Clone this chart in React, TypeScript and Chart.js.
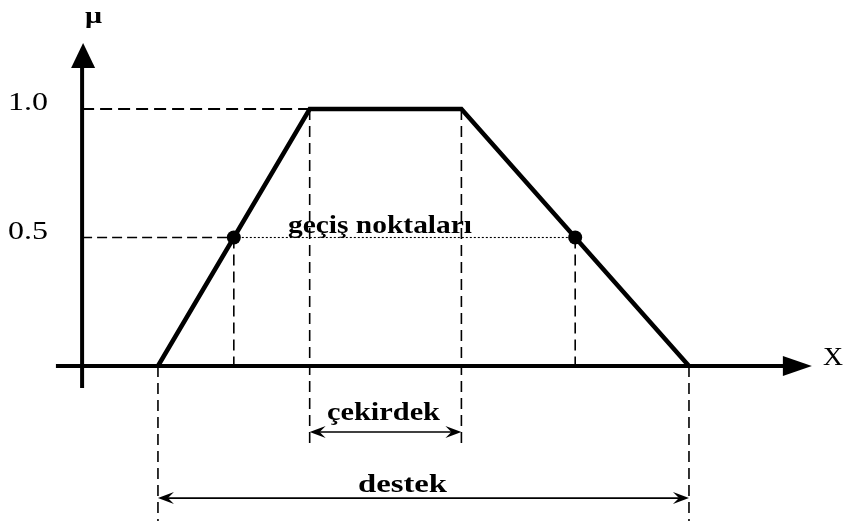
import { useEffect, useRef } from "react";
import { Chart, registerables } from "chart.js";

Chart.register(...registerables);

// ---- data ----
const membershipX = [2, 6, 10, 16]; // support start, core start, core end, support end
const membershipY = [0, 1, 1, 0];
const crossoverX = [4, 13];
const crossoverY = [0.5, 0.5];
const yTickValues = [1.0, 0.5];
const yTickLabels = ["1.0", "0.5"];
const yAxisLabel = "μ";
const xAxisLabel = "X";
const crossoverLabel = "geçiş noktaları";
const coreLabel = "çekirdek";
const supportLabel = "destek";

// ---- layout (data units of the drawing) ----
const X_MIN = -2.1645;
const X_MAX = 20.087;
const Y_MIN = -0.6031;
const Y_MAX = 1.4241;
const X_AXIS_START = -0.69;
const X_AXIS_END = 19.24;
const Y_AXIS_START = -0.086;
const Y_AXIS_END = 1.257;
const CORE_GUIDE_BOTTOM = -0.307;
const CORE_ARROW_Y = -0.257;
const SUPPORT_ARROW_Y = -0.514;

const BLACK = "#000000";

function seg(x1: number, y1: number, x2: number, y2: number) {
  return [
    { x: x1, y: y1 },
    { x: x2, y: y2 },
  ];
}

function guide(data: { x: number; y: number }[], dash: number[], width: number) {
  return {
    data,
    showLine: true,
    borderColor: BLACK,
    borderWidth: width,
    borderDash: dash,
    pointRadius: 0,
    fill: false,
  };
}

function drawText(
  ctx: CanvasRenderingContext2D,
  text: string,
  left: number,
  right: number,
  baseline: number,
  font: string
) {
  ctx.save();
  ctx.font = font;
  ctx.fillStyle = BLACK;
  ctx.textAlign = "left";
  ctx.textBaseline = "alphabetic";
  const w = ctx.measureText(text).width;
  const sx = (right - left) / w;
  ctx.translate(left, baseline);
  ctx.scale(sx, 1);
  ctx.fillText(text, 0, 0);
  ctx.restore();
}

function dimArrowHead(ctx: CanvasRenderingContext2D, tipX: number, y: number, dir: number) {
  // dir = -1 pointing left, +1 pointing right
  const len = 16;
  const half = 6;
  const notch = 10;
  ctx.beginPath();
  ctx.moveTo(tipX, y);
  ctx.lineTo(tipX - dir * len, y - half);
  ctx.lineTo(tipX - dir * notch, y);
  ctx.lineTo(tipX - dir * len, y + half);
  ctx.closePath();
  ctx.fill();
}

const diagramPlugin = {
  id: "fuzzyDiagram",
  beforeDatasetsDraw(chart: any) {
    const ctx: CanvasRenderingContext2D = chart.ctx;
    const xs = chart.scales.x;
    const ys = chart.scales.y;
    const x0 = xs.getPixelForValue(0);
    const y0 = ys.getPixelForValue(0);
    ctx.save();
    ctx.strokeStyle = BLACK;
    ctx.fillStyle = BLACK;
    ctx.lineWidth = 4;
    ctx.lineCap = "butt";
    // x axis
    const xEnd = xs.getPixelForValue(X_AXIS_END);
    ctx.beginPath();
    ctx.moveTo(xs.getPixelForValue(X_AXIS_START), y0);
    ctx.lineTo(xEnd - 26, y0);
    ctx.stroke();
    ctx.beginPath();
    ctx.moveTo(xEnd, y0);
    ctx.lineTo(xEnd - 29, y0 - 10);
    ctx.lineTo(xEnd - 29, y0 + 10);
    ctx.closePath();
    ctx.fill();
    // y axis
    const yEnd = ys.getPixelForValue(Y_AXIS_END);
    ctx.beginPath();
    ctx.moveTo(x0, ys.getPixelForValue(Y_AXIS_START));
    ctx.lineTo(x0, yEnd + 22);
    ctx.stroke();
    ctx.beginPath();
    ctx.moveTo(x0 + 1, yEnd);
    ctx.lineTo(x0 - 11, yEnd + 25);
    ctx.lineTo(x0 + 13, yEnd + 25);
    ctx.closePath();
    ctx.fill();
    ctx.restore();
  },
  afterDatasetsDraw(chart: any) {
    const ctx: CanvasRenderingContext2D = chart.ctx;
    const xs = chart.scales.x;
    const ys = chart.scales.y;
    ctx.save();
    ctx.strokeStyle = BLACK;
    ctx.fillStyle = BLACK;

    // dimension arrows
    const drawDim = (xa: number, xb: number, yv: number) => {
      const pa = xs.getPixelForValue(xa);
      const pb = xs.getPixelForValue(xb);
      const py = ys.getPixelForValue(yv);
      ctx.lineWidth = 1.6;
      ctx.setLineDash([]);
      ctx.beginPath();
      ctx.moveTo(pa + 8, py);
      ctx.lineTo(pb - 8, py);
      ctx.stroke();
      dimArrowHead(ctx, pa, py, -1);
      dimArrowHead(ctx, pb, py, 1);
    };
    drawDim(membershipX[1], membershipX[2], CORE_ARROW_Y);
    drawDim(membershipX[0], membershipX[3], SUPPORT_ARROW_Y);

    // tick labels
    const tickFont = '25px "Liberation Serif"';
    yTickValues.forEach((v, i) => {
      const py = ys.getPixelForValue(v);
      drawText(ctx, yTickLabels[i], 8, 48, py + 1.5, tickFont);
    });

    // axis labels
    drawText(ctx, yAxisLabel, 85, 102, 23, 'bold 24px "Liberation Serif"');
    const x0px = ys.getPixelForValue(0);
    drawText(ctx, xAxisLabel, 823, 843, x0px - 1, '25px "Liberation Serif"');

    // annotations
    const annFont = 'bold 25px "Liberation Serif"';
    drawText(ctx, crossoverLabel, 288, 472, 233, annFont);
    drawText(ctx, coreLabel, 327, 440, 420, annFont);
    drawText(ctx, supportLabel, 358, 447, 492, annFont);
    ctx.restore();
  },
};

export default function App() {
  const canvasRef = useRef<HTMLCanvasElement | null>(null);

  useEffect(() => {
    const canvas = canvasRef.current;
    if (!canvas) return;

    const trapezoid = membershipX.map((x, i) => ({ x, y: membershipY[i] }));
    const crossovers = crossoverX.map((x, i) => ({ x, y: crossoverY[i] }));

    const vDash = [11, 6];
    const datasets: any[] = [
      {
        data: trapezoid,
        showLine: true,
        borderColor: BLACK,
        borderWidth: 4.5,
        pointRadius: 0,
        borderJoinStyle: "miter",
        fill: false,
      },
      {
        data: crossovers,
        showLine: false,
        pointRadius: 7,
        pointBackgroundColor: BLACK,
        pointBorderColor: BLACK,
        pointBorderWidth: 0,
      },
      guide(seg(0, membershipY[1], membershipX[1], membershipY[2]), [12, 6], 1.8),
      guide(seg(0, crossoverY[0], crossoverX[0], crossoverY[0]), [10, 5], 1.6),
      guide(seg(crossoverX[0], crossoverY[0], crossoverX[1], crossoverY[1]), [2, 2], 1.1),
      guide(seg(crossoverX[0], crossoverY[0], crossoverX[0], 0), vDash, 1.6),
      guide(seg(crossoverX[1], crossoverY[1], crossoverX[1], 0), vDash, 1.6),
      guide(seg(membershipX[1], membershipY[1], membershipX[1], CORE_GUIDE_BOTTOM), vDash, 1.6),
      guide(seg(membershipX[2], membershipY[2], membershipX[2], CORE_GUIDE_BOTTOM), vDash, 1.6),
      guide(seg(membershipX[0], membershipY[0], membershipX[0], Y_MIN), vDash, 1.6),
      guide(seg(membershipX[3], membershipY[3], membershipX[3], Y_MIN), vDash, 1.6),
    ];

    const chart = new Chart(canvas, {
      type: "scatter",
      data: { datasets },
      options: {
        animation: false,
        responsive: false,
        events: [],
        layout: { padding: 0, autoPadding: false },
        plugins: {
          legend: { display: false },
          tooltip: { enabled: false },
        },
        scales: {
          x: { type: "linear", min: X_MIN, max: X_MAX, display: false },
          y: { type: "linear", min: Y_MIN, max: Y_MAX, display: false },
        },
      },
      plugins: [diagramPlugin],
    } as any);

    return () => chart.destroy();
  }, []);

  return (
    <div style={{ position: "fixed", left: 0, top: 0, width: 844, height: 521, background: "#ffffff" }}>
      <canvas ref={canvasRef} width={844} height={521} style={{ display: "block" }} />
    </div>
  );
}
